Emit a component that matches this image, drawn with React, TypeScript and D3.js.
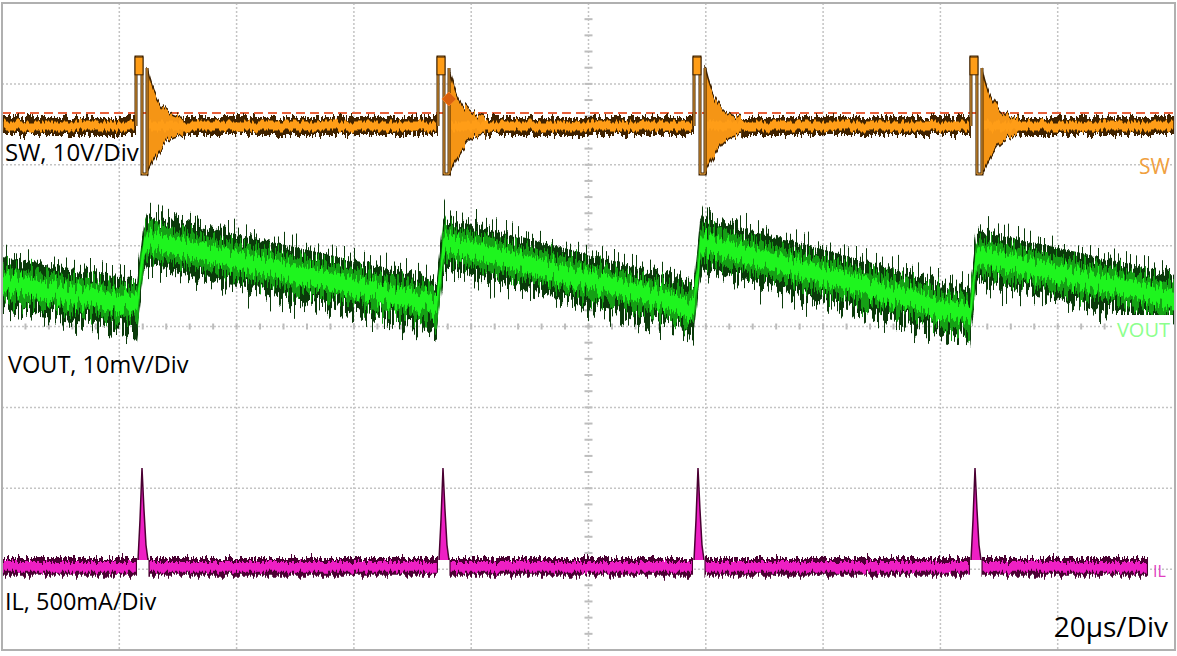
import React from "react";
import * as d3 from "d3";

const W = 1177;
const H = 656;

// Horizontal: time in µs (20 µs/div, 10 divisions)
const timeDomain: [number, number] = [0, 200];
const timeGridDivs = [1, 2, 3, 4, 5, 6, 7, 8, 9];
// Vertical: screen divisions, 0 at centre
const divDomain: [number, number] = [-4, 4];
const levelGridDivs = [-3, -2, -1, 0, 1, 2, 3];

// ---- SW channel (divisions) ----
const swPulseTimes = [22.85, 74.34, 117.99, 165.21];
const swBaseline = 2.479;
const swBandHalf = 0.11;
const swCoreHalf = 0.055;
const swMarkerLevel = 2.64;
const swPulseHigh = 3.332;
const swPulseLow = 1.886;
const swPulseWidth = 1.02;
const swLowWidth = 1.88;
const swRingT = [1.88, 2.39, 3.07, 4.09, 5.12, 6.48, 8.18];
const swRingUpper = [3.196, 3.047, 2.899, 2.763, 2.677, 2.615, 2.578];
const swRingLower = [1.886, 1.96, 2.059, 2.182, 2.281, 2.343, 2.368];
const swCursorT = 76.2;
const swCursorV = 2.813;

// ---- VOUT channel (divisions) ----
const voutT = [0, 23.02, 24.21, 24.72, 74.17, 75.19, 75.7, 117.99, 119.01, 119.52, 165.05, 166.07, 166.58, 200];
const voutV = [0.538, 0.266, 0.971, 1.07, 0.266, 0.946, 1.032, 0.229, 0.946, 1.032, 0.142, 0.798, 0.872, 0.328];
const voutOuterHalf = 0.32;
const voutMidHalf = 0.21;
const voutInnerHalf = 0.11;

// ---- IL channel (divisions) ----
const ilPeakTimes = [23.87, 75.19, 118.67, 165.9];
const ilBaseline = -2.973;
const ilBandHalf = 0.11;
const ilCoreHalf = 0.06;
const ilSpikeT = [-0.68, -0.34, 0, 0.34, 0.68, 1.02];
const ilSpikeV = [-2.887, -2.393, -1.75, -2.269, -2.702, -2.887];
const ilGapBefore = 0.85;
const ilGapAfter = 1.1;
const ilEnd = 195.4;

// ---- Labels ----
const channelLabels = ["SW, 10V/Div", "VOUT, 10mV/Div", "IL, 500mA/Div"];
const channelLabelDivs = [2.046, -0.575, -3.505];
const channelLabelSizes = [24, 23.5, 23.5];
const traceTags = ["SW", "VOUT", "IL"];
const traceTagDivs = [1.886, -0.13, -3.097];
const timebaseLabel = "20µs/Div";

const FONT = "'Open Sans', 'DejaVu Sans', sans-serif";

export default function App() {
  const x = d3.scaleLinear().domain(timeDomain).range([2, 1175]);
  const y = d3.scaleLinear().domain(divDomain).range([650, 3]);

  type P = { t: number; v: number };
  const band = (half: number) =>
    d3
      .area<P>()
      .x((d) => x(d.t))
      .y0((d) => y(d.v - half))
      .y1((d) => y(d.v + half));

  // SW baseline segments
  const swSegs: [number, number][] = [];
  let start = 0;
  swPulseTimes.forEach((p) => {
    swSegs.push([start, p]);
    start = p + swLowWidth;
  });
  swSegs.push([start, 200]);

  const swPulsePath = (p: number) => {
    const path = d3.path();
    path.moveTo(x(p), y(swBaseline));
    path.lineTo(x(p), y(swPulseHigh));
    path.lineTo(x(p + swPulseWidth), y(swPulseHigh));
    path.lineTo(x(p + swPulseWidth), y(swPulseLow));
    path.lineTo(x(p + swLowWidth), y(swPulseLow));
    path.lineTo(x(p + swLowWidth), y(swRingUpper[0]));
    return path.toString();
  };

  const ringPath = (p: number) =>
    d3
      .area<number>()
      .x((d) => x(p + d))
      .y0((d, i) => y(swRingLower[i]))
      .y1((d, i) => y(swRingUpper[i]))
      .curve(d3.curveMonotoneX)(swRingT) as string;

  const voutPts: P[] = voutT.map((t, i) => ({ t, v: voutV[i] }));

  // IL segments
  const ilSegs: [number, number][] = [];
  let ilStart = 0;
  ilPeakTimes.forEach((p) => {
    ilSegs.push([ilStart, p - ilGapBefore]);
    ilStart = p + ilGapAfter;
  });
  ilSegs.push([ilStart, ilEnd]);

  const spikePath = (p: number) =>
    d3
      .line<number>()
      .x((d) => x(p + d))
      .y((d, i) => y(ilSpikeV[i]))(ilSpikeT) as string;

  const seg = (a: number, b: number, v: number): P[] => [
    { t: a, v },
    { t: b, v },
  ];

  const noiseFilter = (id: string, seed: number, scale: number, fx: number) => (
    <filter
      id={id}
      filterUnits="userSpaceOnUse"
      x={0}
      y={0}
      width={W}
      height={H}
      colorInterpolationFilters="sRGB"
    >
      <feTurbulence type="fractalNoise" baseFrequency={`${fx} 0.004`} numOctaves={2} seed={seed} result="t" />
      <feColorMatrix
        in="t"
        type="matrix"
        values="0 0 0 0 0.5  1 0 0 0 0  0 0 0 0 0  0 0 0 0 1"
        result="m"
      />
      <feDisplacementMap in="SourceGraphic" in2="m" scale={scale} xChannelSelector="R" yChannelSelector="G" />
    </filter>
  );

  const minorTicksX = d3.range(0, 200.01, 4);
  const minorTicksY = d3.range(-4, 4.001, 0.2);

  return (
    <svg
      width={W}
      height={H}
      style={{ position: "absolute", left: 0, top: 0, background: "#ffffff" }}
    >
      <defs>
        {noiseFilter("nVout1", 3, 60, 0.5)}
        {noiseFilter("nVout2", 11, 44, 0.45)}
        {noiseFilter("nVout3", 23, 28, 0.4)}
        {noiseFilter("nSw1", 5, 14, 0.55)}
        {noiseFilter("nSw2", 17, 10, 0.5)}
        {noiseFilter("nIl1", 7, 14, 0.55)}
        {noiseFilter("nIl2", 29, 10, 0.5)}
      </defs>
      <rect x={0} y={0} width={W} height={H} fill="#ffffff" />

      {/* grid */}
      <g stroke="#c4c4c4" strokeWidth={1.5} strokeDasharray="2,2">
        {timeGridDivs.map((d) => (
          <line key={"v" + d} x1={x(d * 20)} x2={x(d * 20)} y1={y(4)} y2={y(-4)} />
        ))}
        {levelGridDivs.map((d) => (
          <line key={"h" + d} x1={x(0)} x2={x(200)} y1={y(d)} y2={y(d)} />
        ))}
      </g>
      <g stroke="#bdbdbd" strokeWidth={2}>
        {minorTicksX.map((t) => (
          <line key={"mx" + t} x1={x(t)} x2={x(t)} y1={y(0) - 3} y2={y(0) + 3} />
        ))}
        {minorTicksY.map((v) => (
          <line key={"my" + v} x1={x(100) - 4} x2={x(100) + 4} y1={y(v)} y2={y(v)} />
        ))}
      </g>

      {/* SW dashed level marker */}
      <line
        x1={x(0)}
        x2={x(200)}
        y1={y(swMarkerLevel)}
        y2={y(swMarkerLevel)}
        stroke="#e8603a"
        strokeWidth={2}
        strokeDasharray="9,5"
      />

      {/* SW trace */}
      <g filter="url(#nSw1)">
        {swSegs.map(([a, b], i) => (
          <path key={"swo" + i} d={band(swBandHalf)(seg(a, b, swBaseline)) as string} fill="#3f2200" />
        ))}
        {swPulseTimes.map((p, i) => (
          <path key={"ro" + i} d={ringPath(p)} fill="#f59515" stroke="#3f2200" strokeWidth={1.5} />
        ))}
      </g>
      <g filter="url(#nSw2)">
        {swSegs.map(([a, b], i) => (
          <path key={"swi" + i} d={band(swCoreHalf)(seg(a + 0.3, b - 0.3, swBaseline)) as string} fill="#ff9d17" />
        ))}
      </g>
      {swPulseTimes.map((p, i) => (
        <g key={"sp" + i}>
          <path d={swPulsePath(p)} fill="none" stroke="#3f2200" strokeWidth={3} />
          <path d={swPulsePath(p)} fill="none" stroke="#ffb040" strokeWidth={1} />
          <rect
            x={x(p) - 1}
            y={y(swPulseHigh)}
            width={x(p + swPulseWidth) - x(p) + 2}
            height={y(swPulseHigh - 0.22) - y(swPulseHigh)}
            fill="#ff9d17"
            stroke="#3f2200"
            strokeWidth={1}
          />
        </g>
      ))}
      <path
        d={`M${x(swCursorT)},${y(swCursorV) - 7}L${x(swCursorT) + 7},${y(swCursorV)}L${x(swCursorT)},${y(swCursorV) + 7}L${x(swCursorT) - 7},${y(swCursorV)}Z`}
        fill="#d9600e"
        stroke="#f08020"
        strokeWidth={1}
      />

      {/* VOUT trace */}
      <path d={band(voutOuterHalf)(voutPts) as string} fill="#0a3a0a" filter="url(#nVout1)" />
      <path d={band(voutMidHalf)(voutPts) as string} fill="#15a015" filter="url(#nVout2)" />
      <path d={band(voutInnerHalf)(voutPts) as string} fill="#1ef51e" filter="url(#nVout3)" />

      {/* IL trace */}
      <g filter="url(#nIl1)">
        {ilSegs.map(([a, b], i) => (
          <path key={"ilo" + i} d={band(ilBandHalf)(seg(a, b, ilBaseline)) as string} fill="#4a0032" />
        ))}
      </g>
      <g filter="url(#nIl2)">
        {ilSegs.map(([a, b], i) => (
          <path key={"ili" + i} d={band(ilCoreHalf)(seg(a + 0.2, b - 0.2, ilBaseline)) as string} fill="#ee1fc4" />
        ))}
      </g>
      {ilPeakTimes.map((p, i) => (
        <g key={"ils" + i}>
          <path d={spikePath(p)} fill="#ee1fc4" stroke="#4a0032" strokeWidth={1.5} />
        </g>
      ))}

      {/* frame */}
      <rect
        x={x(0)}
        y={y(4)}
        width={x(200) - x(0)}
        height={y(-4) - y(4)}
        fill="none"
        stroke="#b0b0b0"
        strokeWidth={2}
      />

      {/* labels */}
      {channelLabels.map((s, i) => (
        <text
          key={s}
          x={x(0) + (i === 1 ? 6 : 3)}
          y={y(channelLabelDivs[i])}
          fontFamily={FONT}
          fontSize={channelLabelSizes[i]}
          fill="#000"
        >
          {s}
        </text>
      ))}
      <text x={x(200) - 5} y={y(traceTagDivs[0])} textAnchor="end" fontFamily={FONT} fontSize={21} fill="#f0a040">
        {traceTags[0]}
      </text>
      <rect x={x(200) - 62} y={y(traceTagDivs[1]) - 22} width={60} height={31} fill="#ffffff" />
      <text x={x(200) - 5} y={y(traceTagDivs[1])} textAnchor="end" fontFamily={FONT} fontSize={20} fill="#8cff8c">
        {traceTags[1]}
      </text>
      <text x={x(ilEnd) + 5} y={y(traceTagDivs[2])} fontFamily={FONT} fontSize={16} fill="#e040c0">
        {traceTags[2]}
      </text>
      <text x={x(200) - 7} y={637} textAnchor="end" fontFamily={FONT} fontSize={28} fill="#000">
        {timebaseLabel}
      </text>
    </svg>
  );
}
